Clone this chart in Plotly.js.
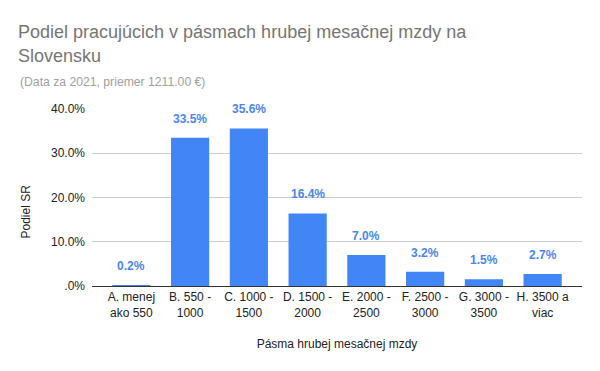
<!DOCTYPE html>
<html>
<head>
<meta charset="utf-8">
<script src="https://cdn.plot.ly/plotly-3.0.1.min.js"></script>
<style>html,body{margin:0;padding:0;background:#fff}#chart{width:600px;height:371px}</style>
</head>
<body>
<div id="chart"></div>
<script>
const categories = ['A. menej<br>ako 550','B. 550 -<br>1000','C. 1000 -<br>1500','D. 1500 -<br>2000','E. 2000 -<br>2500','F. 2500 -<br>3000','G. 3000 -<br>3500','H. 3500 a<br>viac'];
const values = [0.2, 33.5, 35.6, 16.4, 7.0, 3.2, 1.5, 2.7];
const valueLabels = ['0.2%','33.5%','35.6%','16.4%','7.0%','3.2%','1.5%','2.7%'];
const yTickVals = [0, 10, 20, 30, 40];
const yTickText = ['.0%','10.0%','20.0%','30.0%','40.0%'];

const FONT = 'Liberation Sans, Arial, sans-serif';
const xIdx = categories.map((c, i) => i);

const trace = {
  type: 'bar',
  x: xIdx,
  y: values,
  marker: {color: '#4285F4'},
  width: 0.65,
  hoverinfo: 'none'
};

const annotations = values.map((v, i) => ({
  x: i, y: v, xref: 'x', yref: 'y',
  text: '<b>' + valueLabels[i] + '</b>',
  showarrow: false, yanchor: 'middle', yshift: 19,
  font: {family: FONT, size: 12, color: '#4a86e8'}
}));
annotations.push({
  xref: 'paper', yref: 'paper', x: -0.151, y: 1.152, xanchor: 'left', yanchor: 'middle',
  text: '(Data za 2021, priemer 1211.00 €)', showarrow: false,
  font: {family: FONT, size: 12.2, color: '#a0a0a0'}
});
annotations.push({
  xref: 'paper', yref: 'paper', x: -0.135, y: 0.42, xanchor: 'center', yanchor: 'middle',
  text: 'Podiel SR', textangle: -90, showarrow: false,
  font: {family: FONT, size: 12, color: '#222'}
});

const layout = {
  width: 600, height: 371,
  margin: {l: 92, r: 18, t: 109, b: 85},
  paper_bgcolor: '#fff', plot_bgcolor: '#fff',
  font: {family: FONT, size: 12, color: '#222'},
  title: {
    text: 'Podiel pracujúcich v pásmach hrubej mesačnej mzdy na<br>Slovensku',
    x: 0.03, xref: 'container', xanchor: 'left',
    y: 0.897, yref: 'container', yanchor: 'top',
    font: {family: FONT, size: 18, color: '#757575'}
  },
  xaxis: {
    range: [-0.67, 7.67],
    tickvals: xIdx, ticktext: categories,
    showgrid: false, zeroline: false,
    showline: true, linecolor: '#333', linewidth: 1,
    ticks: '', tickfont: {family: FONT, size: 12, color: '#222'},
    title: {text: 'Pásma hrubej mesačnej mzdy', font: {family: FONT, size: 12, color: '#222'}, standoff: 20},
    fixedrange: true
  },
  yaxis: {
    range: [0, 40],
    tickvals: yTickVals, ticktext: yTickText,
    showgrid: true, gridcolor: '#cccccc', gridwidth: 1,
    zeroline: false, showline: false, ticks: '',
    ticklabelstandoff: 6,
    tickfont: {family: FONT, size: 12, color: '#222'},
    fixedrange: true
  },
  annotations: annotations,
  showlegend: false,
  bargap: 0.35
};

Plotly.newPlot('chart', [trace], layout, {displayModeBar: false, staticPlot: true});
</script>
</body>
</html>
